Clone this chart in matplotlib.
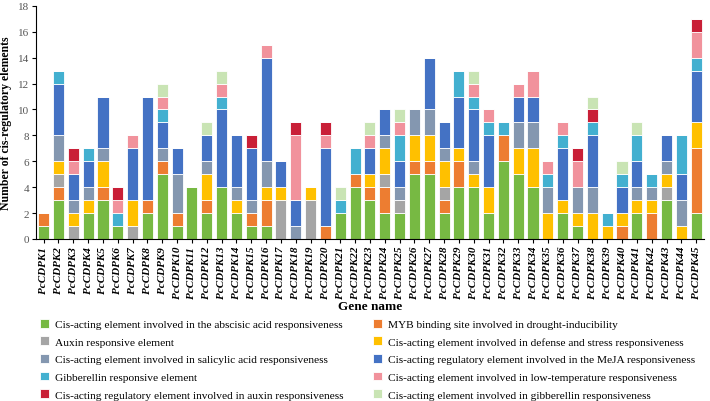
import numpy as np
import matplotlib
matplotlib.use("Agg")
import matplotlib.pyplot as plt

plt.rcParams['font.family'] = ['Liberation Serif', 'DejaVu Serif']

genes = ["PcCDPK%d" % i for i in range(1, 46)]

# counts of each element type per gene (bottom to top of the stack)
abscisic   = [1,3,0,2,3,1,0,2,5,1,4,2,4,2,1,1,0,0,0,0,2,4,3,2,2,5,5,2,4,4,2,6,5,4,0,2,1,0,0,0,2,0,3,0,2]
myb        = [1,1,0,0,1,0,0,1,1,1,0,1,0,0,1,2,0,0,0,1,0,1,1,2,0,1,1,1,2,0,0,2,0,0,0,0,0,0,0,1,0,2,0,0,5]
auxin_resp = [0,1,1,0,0,0,1,0,0,0,0,0,0,0,0,0,3,0,3,0,0,0,0,1,1,0,0,1,0,0,0,0,0,0,0,0,0,0,0,0,0,0,1,0,0]
defense    = [0,1,1,1,2,0,2,0,0,0,0,2,0,1,0,1,1,0,1,0,0,0,1,2,0,2,2,2,1,1,2,0,2,3,2,1,1,2,1,1,1,1,1,1,2]
salicylic  = [0,2,1,1,1,0,0,0,1,3,0,1,0,1,1,2,0,1,0,0,0,0,0,1,1,2,2,1,0,1,0,0,2,2,2,0,2,2,0,0,1,1,1,2,0]
meja       = [0,4,2,2,4,0,4,8,2,2,0,2,6,4,4,8,2,2,0,6,0,0,2,2,2,0,4,2,4,4,4,0,2,2,0,4,0,4,0,2,2,0,2,2,4]
gib_resp   = [0,1,0,1,0,1,0,0,1,0,0,0,1,0,0,0,0,0,0,0,1,2,0,0,2,0,0,0,2,1,1,1,0,0,1,1,0,1,1,1,2,1,0,3,1]
low_temp   = [0,0,1,0,0,1,1,0,1,0,0,0,1,0,0,1,0,5,0,1,0,0,1,0,1,0,0,0,0,1,1,0,1,2,1,1,2,0,0,0,0,0,0,0,2]
auxin_reg  = [0,0,1,0,0,1,0,0,0,0,0,0,0,0,1,0,0,1,0,1,0,0,0,0,0,0,0,0,0,0,0,0,0,0,0,0,1,1,0,0,0,0,0,0,1]
gibberellin= [0,0,0,0,0,0,0,0,1,0,0,1,1,0,0,0,0,0,0,0,1,0,1,0,1,0,0,0,0,1,0,0,0,0,0,0,0,1,0,1,1,0,0,0,0]

series = [
    ("Cis-acting element involved in the abscisic acid responsiveness", abscisic, "#77b943"),
    ("MYB binding site involved in drought-inducibility", myb, "#ed7d31"),
    ("Auxin responsive element", auxin_resp, "#a5a5a5"),
    ("Cis-acting element involved in defense and stress responsiveness", defense, "#ffc000"),
    ("Cis-acting element involved in salicylic acid responsiveness", salicylic, "#8497b0"),
    ("Cis-acting regulatory element involved in the MeJA responsiveness", meja, "#4472c4"),
    ("Gibberellin responsive element", gib_resp, "#43b0d0"),
    ("Cis-acting element involved in low-temperature responsiveness", low_temp, "#f1929c"),
    ("Cis-acting regulatory element involved in auxin responsiveness", auxin_reg, "#c91f37"),
    ("Cis-acting element involved in gibberellin responsiveness", gibberellin, "#c9e4b4"),
]

fig = plt.figure(figsize=(7.1, 4.02), dpi=100)
ax = fig.add_axes([0.051, 0.403, 0.940, 0.580])

x = np.arange(len(genes))
bottom = np.zeros(len(genes))
handles = []
for label, vals, color in series:
    vals = np.array(vals)
    h = ax.bar(x, vals, 0.75, bottom=bottom, color=color, edgecolor="white",
               linewidth=0.6, label=label)
    handles.append(h)
    bottom += vals

ax.set_xlim(-0.5, len(genes) - 0.5)
ax.set_ylim(0, 18)
ax.set_yticks(range(0, 19, 2))
ax.set_xticks(x)
ax.set_xticklabels(genes, rotation=90, fontstyle="italic", fontweight="bold", fontsize=8)
ax.tick_params(axis="y", labelsize=8, labelcolor="#555555", length=3, pad=2)
ax.tick_params(axis="x", length=3, pad=2)
for s in ["top", "right"]:
    ax.spines[s].set_visible(False)
ax.set_ylabel("Number of cis-regulatory elements", fontweight="bold", fontsize=8.5, labelpad=4)
ax.set_xlabel("Gene name", fontweight="bold", fontsize=9.5, labelpad=1)

# legend reads row-wise in two columns
order = [0, 2, 4, 6, 8, 1, 3, 5, 7, 9]
fig.legend([handles[i] for i in order], [series[i][0] for i in order],
           ncol=2, loc="lower left", bbox_to_anchor=(0.042, -0.022), frameon=False,
           fontsize=8.2, handlelength=0.8, handleheight=0.8, handletextpad=0.5,
           columnspacing=2.6, labelspacing=0.64)

fig.savefig("out.png", dpi=100)
